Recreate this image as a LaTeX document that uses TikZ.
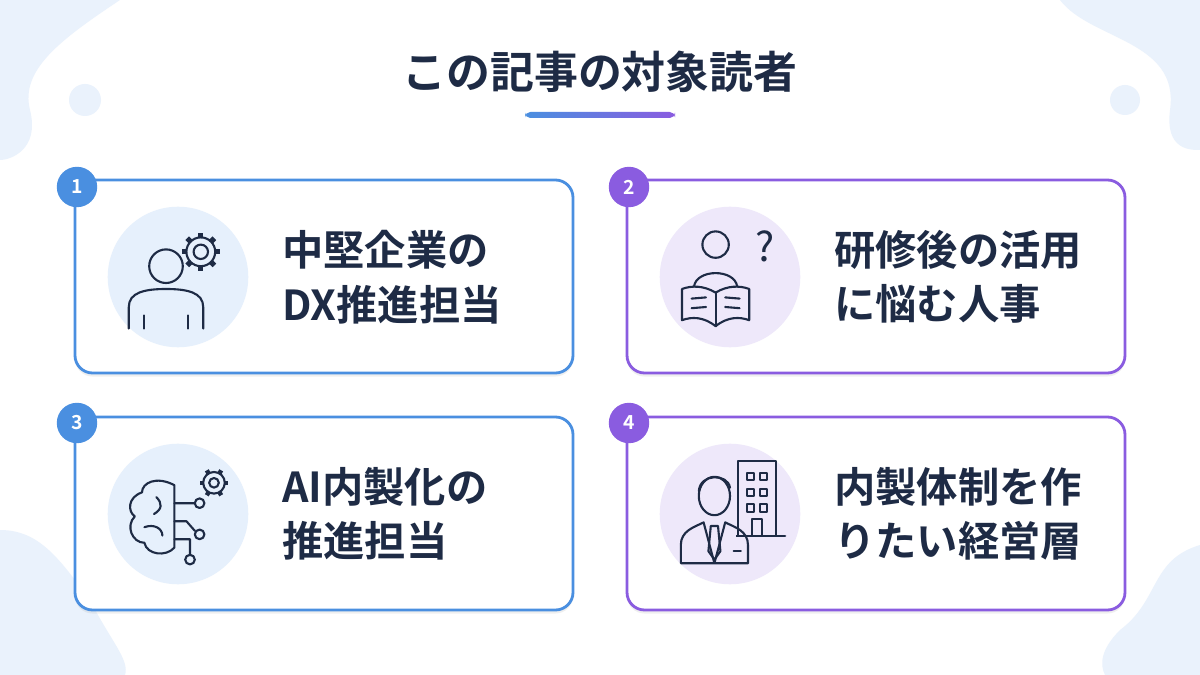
\documentclass[tikz,border=0pt]{standalone}
\usepackage{fontspec}
\setmainfont{Noto Sans CJK JP}[BoldFont={Noto Sans CJK JP Bold}]
\usetikzlibrary{shadows}
\definecolor{navy}{HTML}{1E2B45}
\definecolor{blueb}{HTML}{4A8FE0}
\definecolor{purpb}{HTML}{8A5CE0}
\definecolor{bluefill}{HTML}{E6F0FC}
\definecolor{purpfill}{HTML}{EEE8FA}
\definecolor{blob}{HTML}{EAF2FC}
\tikzset{
  card/.style={draw=#1, line width=1.6pt, rounded corners=10pt, fill=white,
    drop shadow={opacity=0.12, shadow xshift=0pt, shadow yshift=-2pt}},
  badge/.style={circle, fill=#1, text=white, minimum size=23pt, inner sep=0pt, font=\bfseries\fontsize{11}{11}\selectfont},
  iconbg/.style={circle, fill=#1, minimum size=80pt, inner sep=0pt},
  label/.style={anchor=west, align=left, text=navy, font=\bfseries\fontsize{23.5}{31}\selectfont},
  ico/.style={draw=navy, line width=1.2pt, line cap=round, line join=round},
  around/.style={shift={#1}, scale=1.2, shift={($(0,0)-#1$)}}
}
\usetikzlibrary{calc}
\begin{document}
\begin{tikzpicture}[x=0.02cm, y=-0.02cm]
  \useasboundingbox (0,0) rectangle (1200,675);
  \fill[white] (0,0) rectangle (1200,675);
  % background blobs
  \fill[blob] (0,0) -- (120,0) .. controls (60,40) and (20,70) .. (30,110) .. controls (40,150) and (10,160) .. (0,160) -- cycle;
  \fill[blob] (85,100) circle (16);
  \fill[blob] (1200,0) -- (1060,0) .. controls (1090,40) and (1180,40) .. (1170,110) .. controls (1165,150) and (1190,150) .. (1200,150) -- cycle;
  \fill[blob] (1125,100) circle (15);
  \fill[blob] (0,675) -- (0,530) .. controls (40,530) and (60,560) .. (90,600) .. controls (110,640) and (130,660) .. (125,675) -- cycle;
  \fill[blob] (1200,675) -- (1200,545) .. controls (1150,560) and (1160,600) .. (1120,630) .. controls (1100,650) and (1100,665) .. (1105,675) -- cycle;

  % title
  \node[text=navy, font=\bfseries\fontsize{25}{25}\selectfont] (title) at (600,72) {この記事の対象読者};
  \shade[left color=blueb, right color=purpb, rounded corners=3pt] (525,112) rectangle (675,118);

  % cards
  \draw[card=blueb] (75,180) rectangle (573,373);
  \draw[card=purpb] (627,180) rectangle (1125,373);
  \draw[card=blueb] (75,417) rectangle (573,610);
  \draw[card=purpb] (627,417) rectangle (1125,610);

  \node[badge=blueb] (b1) at (77,187) {1};
  \node[badge=purpb] (b2) at (629,187) {2};
  \node[badge=blueb] (b3) at (77,423) {3};
  \node[badge=purpb] (b4) at (629,423) {4};

  \node[iconbg=bluefill] (i1) at (178,277) {};
  \node[iconbg=purpfill] (i2) at (730,277) {};
  \node[iconbg=bluefill] (i3) at (178,514) {};
  \node[iconbg=purpfill] (i4) at (730,514) {};

  \node[label] (t1) at (276,277) {中堅企業の\\DX推進担当};
  \node[label] (t2) at (828,277) {研修後の活用\\に悩む人事};
  \node[label] (t3) at (276,514) {AI内製化の\\推進担当};
  \node[label] (t4) at (828,514) {内製体制を作\\りたい経営層};

  % icon 1: person with gear
  \begin{scope}[around={(178,277)}]
  \draw[ico] (168,268) circle (14);
  \draw[ico] (137,320) -- (137,302) .. controls (137,290) and (150,287) .. (168,287) .. controls (186,287) and (199,290) .. (199,302) -- (199,320);
  \draw[ico] (150,309) -- (150,320) (186,309) -- (186,320);
  \draw[ico] (197,256) circle (6);
  \draw[ico] (197,256) circle (12);
  \foreach \a in {0,45,...,315}
    \draw[ico, line width=3pt, line cap=butt] (197,256) ++(\a:-12) -- ++(\a:-4);
  \end{scope}

  % icon 2: reader with question
  \begin{scope}[around={(730,277)}]
  \draw[ico] (718,250) circle (11);
  \draw[ico] (700,285) .. controls (702,270) and (734,270) .. (736,285);
  \draw[ico] (718,290) -- (718,318);
  \draw[ico] (718,290) .. controls (708,284) and (698,284) .. (690,287) -- (690,313) .. controls (698,310) and (708,310) .. (718,318);
  \draw[ico] (718,290) .. controls (728,284) and (738,284) .. (746,287) -- (746,313) .. controls (738,310) and (728,310) .. (718,318);
  \draw[ico] (698,295) -- (710,294) (698,303) -- (710,302) (726,294) -- (738,295) (726,302) -- (738,303);
  \end{scope}
  \node[text=navy, font=\fontsize{23}{23}\selectfont] (q) at (765,246) {?};

  % icon 3: brain with circuit
  \begin{scope}[around={(178,514)}]
  \draw[ico] (175,490) .. controls (160,482) and (148,488) .. (148,496) .. controls (136,500) and (136,512) .. (142,516)
    .. controls (134,524) and (140,538) .. (150,538) .. controls (152,548) and (168,550) .. (175,542) -- cycle;
  \draw[ico] (160,500) .. controls (165,505) and (165,510) .. (158,514) (150,525) .. controls (158,522) and (165,526) .. (165,532);
  \draw[ico] (175,505) -- (192,505) (175,520) -- (185,520) -- (192,528) (175,535) -- (188,535) -- (188,548);
  \draw[ico] (196,505) circle (4) (196,531) circle (4) (188,552) circle (4);
  \draw[ico] (208,488) circle (4);
  \draw[ico] (208,488) circle (9);
  \foreach \a in {0,60,...,300}
    \draw[ico, line width=2.5pt, line cap=butt] (208,488) ++(\a:9) -- ++(\a:3);
  \end{scope}

  % icon 4: manager with building
  \begin{scope}[around={(730,514)}]
  \draw[ico] (737,532) -- (737,470) -- (768,470) -- (768,532);
  \draw[ico] (730,532) -- (776,532);
  \foreach \r in {480,493,506}
    \draw[ico] (744,\r) rectangle ++(6,6) (755,\r) rectangle ++(6,6);
  \draw[ico] (748,532) -- (748,518) -- (757,518) -- (757,532);
  \fill[purpfill] (700,500) rectangle (735,555);
  \draw[ico] (717,499) ellipse (13 and 16);
  \draw[ico] (704,495) .. controls (705,480) and (728,480) .. (730,492);
  \draw[ico] (689,555) -- (689,540) .. controls (689,528) and (700,525) .. (708,521) -- (717,555) -- (726,521) .. controls (734,525) and (745,528) .. (745,540) -- (745,555) -- cycle;
  \draw[ico] (714,524) -- (720,524) -- (722,545) -- (717,552) -- (712,545) -- cycle;
  \draw[ico] (733,545) -- (739,545);
  \end{scope}
\end{tikzpicture}
\end{document}
